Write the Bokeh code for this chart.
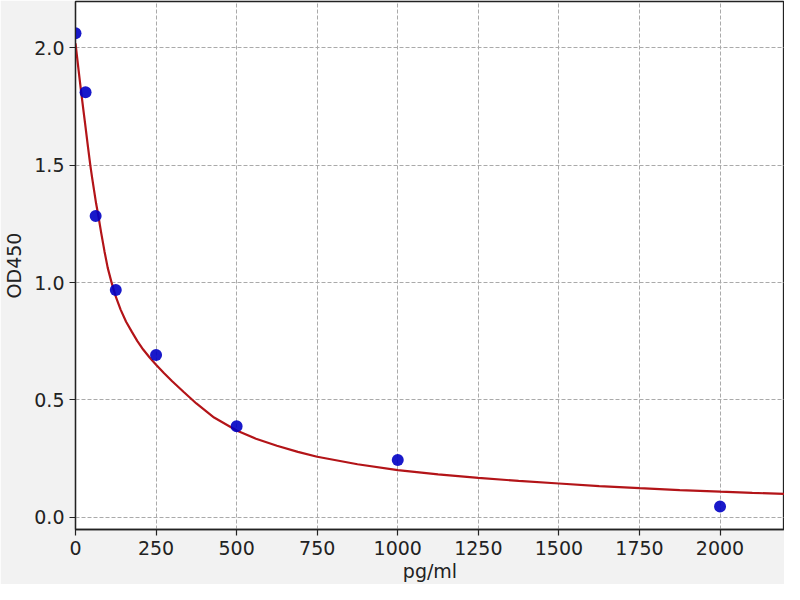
from bokeh.plotting import figure
from bokeh.models import Range1d, FixedTicker, PrintfTickFormatter
from bokeh.embed import file_html
from bokeh.resources import INLINE

# measured standard points
conc = [0, 31.25, 62.5, 125, 250, 500, 1000, 2000]
od = [2.063, 1.811, 1.284, 0.969, 0.692, 0.388, 0.244, 0.046]

# fitted curve
curve_x = [0, 5, 10, 15, 20, 25, 30, 38, 46, 52, 58, 64, 71, 80, 90, 100, 112,
           125, 140, 157, 175, 192, 210, 230, 250, 275, 300, 335, 375, 430,
           500, 560, 625, 690, 750, 875, 1000, 1125, 1250, 1375, 1500, 1625,
           1750, 1875, 2000, 2100, 2200]
curve_y = [2.02, 1.96, 1.90, 1.842, 1.785, 1.73, 1.675, 1.586, 1.50, 1.443,
           1.39, 1.337, 1.284, 1.21, 1.133, 1.063, 1.00, 0.94, 0.885, 0.833,
           0.79, 0.751, 0.715, 0.681, 0.65, 0.614, 0.58, 0.535, 0.485, 0.425,
           0.37, 0.335, 0.305, 0.279, 0.258, 0.226, 0.201, 0.183, 0.168,
           0.155, 0.144, 0.133, 0.124, 0.116, 0.109, 0.104, 0.100]

x_ticks = [0, 250, 500, 750, 1000, 1250, 1500, 1750, 2000]
y_ticks = [0.0, 0.5, 1.0, 1.5, 2.0]

FONT = "DejaVu Sans"

p = figure(width=784, height=584, output_backend="svg", toolbar_location=None,
           x_range=Range1d(0, 2200), y_range=Range1d(-0.052, 2.198),
           min_border_left=71, min_border_right=0, min_border_top=1,
           min_border_bottom=10)

p.background_fill_color = "white"
p.border_fill_color = "#f2f2f2"
p.outline_line_color = "#222222"
p.outline_line_width = 1.3

p.xaxis.ticker = FixedTicker(ticks=x_ticks)
p.yaxis.ticker = FixedTicker(ticks=y_ticks)
p.xaxis.formatter = PrintfTickFormatter(format="%d")
p.yaxis.formatter = PrintfTickFormatter(format="%.1f")

for ax in (p.xaxis[0], p.yaxis[0]):
    ax.axis_line_color = "#222222"
    ax.axis_line_width = 1.3
    ax.major_tick_line_color = "#222222"
    ax.major_tick_line_width = 1.2
    ax.major_tick_out = 6
    ax.major_tick_in = 0
    ax.minor_tick_line_color = None
    ax.major_label_text_font = FONT
    ax.major_label_text_font_size = "19px"
    ax.major_label_text_color = "#222222"
    ax.axis_label_text_font = FONT
    ax.axis_label_text_font_size = "19px"
    ax.axis_label_text_font_style = "normal"
    ax.axis_label_text_color = "#222222"

p.xaxis.axis_label = "pg/ml"
p.yaxis.axis_label = "OD450"
p.xaxis.major_label_standoff = 5
p.xaxis.axis_label_standoff = 2
p.yaxis.major_label_standoff = 5
p.yaxis.axis_label_standoff = 6

for g, t in ((p.xgrid[0], x_ticks), (p.ygrid[0], y_ticks)):
    g.ticker = FixedTicker(ticks=t)
    g.grid_line_color = "#aaaaaa"
    g.grid_line_dash = "4 2"
    g.grid_line_width = 1

p.line(curve_x, curve_y, line_color="#b31418", line_width=2.2)
p.scatter(conc, od, size=12, fill_color="#0000c4", fill_alpha=0.9,
          line_color=None)

open("out.html", "w").write(file_html(p, INLINE))
